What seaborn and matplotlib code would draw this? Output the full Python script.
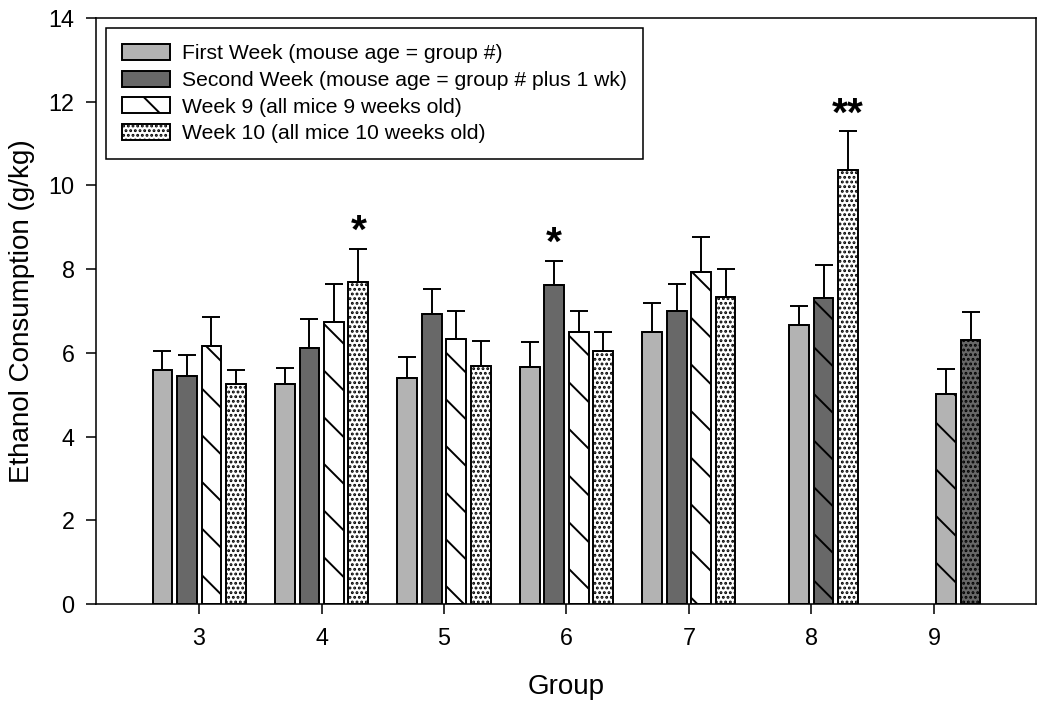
import pandas as pd
import numpy as np
import seaborn as sns
import matplotlib.pyplot as plt
from matplotlib.patches import Patch

# Values (mean and upper SEM bar top)
groups = ["3", "4", "5", "6", "7", "8", "9"]
first_week = [5.60, 5.25, 5.40, 5.67, 6.49, 6.67, None]
first_err = [6.04, 5.64, 5.90, 6.25, 7.20, 7.13, None]
second_week = [5.44, 6.11, 6.93, 7.62, 6.99, 7.32, 6.31]
second_err = [5.95, 6.81, 7.52, 8.20, 7.65, 8.10, 6.98]
week9 = [6.17, 6.73, 6.32, 6.49, 7.92, None, 5.01]
week9_err = [6.85, 7.64, 7.00, 6.99, 8.77, None, 5.62]
week10 = [5.25, 7.69, 5.68, 6.05, 7.34, 10.37, None]
week10_err = [5.58, 8.49, 6.28, 6.49, 8.00, 11.29, None]
stars = {("4", "d"): "*", ("6", "b"): "*", ("8", "d"): "**"}

series_labels = ["First Week (mouse age = group #)",
                 "Second Week (mouse age = group # plus 1 wk)",
                 "Week 9 (all mice 9 weeks old)",
                 "Week 10 (all mice 10 weeks old)"]

LIGHT = "#b3b3b3"
DARK = "#686868"
styles = {"first": (LIGHT, ""), "second": (DARK, ""),
          "w9": ("white", "\\"), "w10": ("white", "....."),
          "first_w9": (LIGHT, "\\"), "second_w9": (DARK, "\\"),
          "second_w10": (DARK, ".....")}

# build long table: slot decides where the bar sits in its group
rows = []
for i, g in enumerate(groups):
    if g == "8":
        # group 8: second week coincides with week 9, first week sits in slot b
        entries = [("b", first_week[i], first_err[i], "first"),
                   ("c", second_week[i], second_err[i], "second_w9"),
                   ("d", week10[i], week10_err[i], "w10")]
    elif g == "9":
        entries = [("c", week9[i], week9_err[i], "first_w9"),
                   ("d", second_week[i], second_err[i], "second_w10")]
    else:
        entries = [("a", first_week[i], first_err[i], "first"),
                   ("b", second_week[i], second_err[i], "second"),
                   ("c", week9[i], week9_err[i], "w9"),
                   ("d", week10[i], week10_err[i], "w10")]
    for slot, v, e, st in entries:
        rows.append({"group": g, "slot": slot, "value": v, "err": e, "style": st})
df = pd.DataFrame(rows)

sns.set_style("ticks")
plt.rcParams["font.family"] = ["Liberation Sans", "DejaVu Sans"]
plt.rcParams["hatch.linewidth"] = 1.0
plt.rcParams["text.color"] = "black"
plt.rcParams["axes.labelcolor"] = "black"
plt.rcParams["xtick.color"] = "black"
plt.rcParams["ytick.color"] = "black"

fig = plt.figure(figsize=(7.5, 708 / 140), dpi=140)
ax = fig.add_axes([0.0914, 0.1469, 0.8953, 0.8277])

sns.barplot(data=df, x="group", y="value", hue="slot", order=groups,
            hue_order=["a", "b", "c", "d"], dodge=True, width=0.8, gap=0.2,
            palette=["#cccccc"] * 4, errorbar=None, legend=False, ax=ax)

# restyle each bar and add its one-sided error bar
for p in list(ax.patches):
    xc = p.get_x() + p.get_width() / 2
    gi = int(round(xc))
    sub = df[df["group"] == groups[gi]]
    idx = (sub["value"] - p.get_height()).abs().idxmin()
    row = df.loc[idx]
    fc, hatch = styles[row["style"]]
    p.set_facecolor(fc)
    p.set_hatch(hatch)
    p.set_edgecolor("black")
    p.set_linewidth(1.0)
    ax.errorbar(xc, row["value"], yerr=[[0], [row["err"] - row["value"]]],
                fmt="none", ecolor="black", elinewidth=1.0, capsize=4.6,
                capthick=1.0, zorder=1)
    key = (row["group"], row["slot"])
    if key in stars:
        ax.text(xc, row["err"] - 0.05, stars[key], ha="center", va="bottom",
                fontsize=21, fontweight="bold")

ax.set_xlim(-0.842, 6.834)
ax.set_ylim(0, 14)
ax.set_yticks(np.arange(0, 15, 2))
ax.set_xlabel("Group", fontsize=14.3, labelpad=12)
ax.set_ylabel("Ethanol Consumption (g/kg)", fontsize=14.3, labelpad=7)
ax.tick_params(axis="both", labelsize=12, length=5, width=0.8, direction="out")
ax.tick_params(axis="y", pad=6)
ax.tick_params(axis="x", pad=7)
for s in ax.spines.values():
    s.set_visible(True)
    s.set_linewidth(0.8)
    s.set_color("black")

handles = [Patch(facecolor=LIGHT, edgecolor="black", label=series_labels[0]),
           Patch(facecolor=DARK, edgecolor="black", label=series_labels[1]),
           Patch(facecolor="white", edgecolor="black", hatch="\\", label=series_labels[2]),
           Patch(facecolor="white", edgecolor="black", hatch=".....", label=series_labels[3])]
leg = ax.legend(handles=handles, loc="upper left", bbox_to_anchor=(0.011, 0.983),
                fontsize=10.9, frameon=True, fancybox=False, framealpha=1,
                edgecolor="black", handlelength=2.24, handleheight=0.8,
                labelspacing=0.34, borderpad=0.75, handletextpad=0.6,
                borderaxespad=0)
leg.get_frame().set_linewidth(0.8)

fig.savefig("out.png", dpi=140)
